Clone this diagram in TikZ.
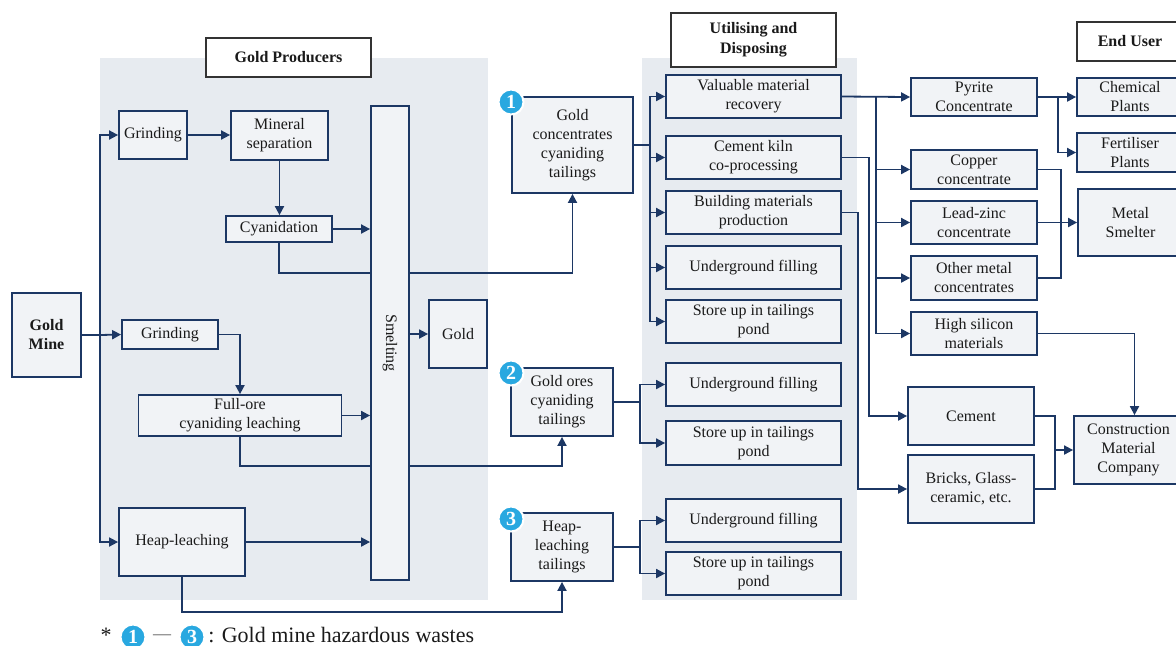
\documentclass[tikz,border=0pt]{standalone}
\usepackage{fontspec}
\setmainfont{Liberation Serif}
\usetikzlibrary{arrows.meta}
\definecolor{navy}{HTML}{1C3764}
\definecolor{boxfill}{HTML}{F1F3F6}
\definecolor{panelc}{HTML}{E7EBF0}
\definecolor{badgec}{HTML}{29A8E0}
\definecolor{txt}{HTML}{1A1A1A}
\pgfdeclarelayer{bg}\pgfdeclarelayer{mid}\pgfsetlayers{bg,mid,main}
\tikzset{
 box/.style={draw=navy, fill=boxfill, line width=0.9pt, inner sep=0pt, align=center, text=txt, font=\fontsize{8}{9.5}\selectfont},
 ttl/.style={draw=black!80, fill=white, line width=0.8pt, inner sep=0pt, align=center, text=txt, font=\fontsize{8}{10}\selectfont\bfseries},
 sz/.style 2 args={minimum width={#1*0.5pt}, minimum height={#2*0.5pt}},
 conn/.style={draw=navy, line width=0.9pt},
 arr/.style={conn, -{Triangle[length=4.5pt,width=4.5pt]}},
 badgestyle/.style={circle, fill=badgec, draw=white, line width=1pt, minimum size=12.5pt, inner sep=0pt, text=white, font=\fontsize{10}{10}\selectfont\bfseries},
}
\begin{document}
\begin{tikzpicture}[x=0.5pt,y=-0.5pt]
\useasboundingbox (0,0) rectangle (1176,645);
\begin{pgfonlayer}{bg}
\fill[panelc] (100,58) rectangle (488,600);
\fill[panelc] (642,58) rectangle (857,600);
\end{pgfonlayer}
% titles
\node[ttl, sz={165}{39}] (gpt) at (288.5,57.5) {Gold Producers};
\node[ttl, sz={165}{54}] (udt) at (753.5,40) {Utilising and\\Disposing};
\node[ttl, sz={106}{39}] (eut) at (1130,41.5) {End User};
% gold producers
\node[box, sz={69}{84}, font=\fontsize{8}{9.5}\selectfont\bfseries] (mine) at (46.5,335) {Gold\\Mine};
\node[box, sz={68}{48}] (grind1) at (153,135) {Grinding};
\node[box, sz={97}{49}] (minsep) at (279.5,135.5) {Mineral\\separation};
\node[box, sz={106}{26}] (cyan) at (279,229) {Cyanidation};
\node[box, sz={38}{474}] (smelt) at (390,343) {};
\node[rotate=-90, text=txt, font=\fontsize{8}{9.5}\selectfont] (smeltlbl) at (smelt.center) {Smelting};
\node[box, sz={58}{68}] (gold) at (458,334) {Gold};
\node[box, sz={96}{29}] (grind2) at (170,334.5) {Grinding};
\node[box, sz={203}{41}] (fullore) at (240,415.5) {Full-ore\\cyaniding leaching};
\node[box, sz={126}{68}] (heap) at (182,542) {Heap-leaching};
% tailings
\node[box, sz={121}{96}] (t1) at (572.5,145) {Gold\\concentrates\\cyaniding\\tailings};
\node[box, sz={102}{68}] (t2) at (562,402) {Gold ores\\cyaniding\\tailings};
\node[box, sz={102}{68}] (t3) at (562,547) {Heap-\\leaching\\tailings};
\node[badgestyle] (b1) at (511,102) {1};
\node[badgestyle] (b2) at (511,373) {2};
\node[badgestyle] (b3) at (511,519) {3};
% utilising
\node[box, sz={175}{43}] (vmr) at (753.5,96.5) {Valuable material\\recovery};
\node[box, sz={175}{43}] (ckc) at (753.5,157.5) {Cement kiln\\co-processing};
\node[box, sz={175}{43}] (bmp) at (753.5,212.5) {Building materials\\production};
\node[box, sz={175}{43}] (uf1) at (753.5,267.5) {Underground filling};
\node[box, sz={175}{43}] (st1) at (753.5,321.5) {Store up in tailings\\pond};
\node[box, sz={175}{43}] (uf2) at (753.5,384.5) {Underground filling};
\node[box, sz={175}{44}] (st2) at (753.5,443) {Store up in tailings\\pond};
\node[box, sz={175}{43}] (uf3) at (753.5,520.5) {Underground filling};
\node[box, sz={175}{43}] (st3) at (753.5,573.5) {Store up in tailings\\pond};
% products
\node[box, sz={126}{38}] (pyr) at (974,97) {Pyrite\\Concentrate};
\node[box, sz={126}{39}] (cop) at (974,169.5) {Copper\\concentrate};
\node[box, sz={126}{43}] (lz) at (974,222.5) {Lead-zinc\\concentrate};
\node[box, sz={126}{44}] (oth) at (974,278) {Other metal\\concentrates};
\node[box, sz={126}{43}] (hsi) at (974,333.5) {High silicon\\materials};
\node[box, sz={126}{58}] (cem) at (971,416) {Cement};
\node[box, sz={126}{68}] (bri) at (971,489) {Bricks, Glass-\\ceramic, etc.};
% end users
\node[box, sz={106}{38}] (chem) at (1130,97) {Chemical\\Plants};
\node[box, sz={106}{39}] (fert) at (1130,152.5) {Fertiliser\\Plants};
\node[box, sz={105}{67}] (msm) at (1130.5,222.5) {Metal\\Smelter};
\node[box, sz={109}{68}] (cmc) at (1128.5,450) {Construction\\Material\\Company};
% footnote
\node[text=txt, font=\fontsize{11}{12}\selectfont, anchor=base, inner sep=0pt] (star) at (106,642) {*};
\node[badgestyle] (f1) at (133,637) {1};
\node[text=txt!70, font=\fontsize{9}{10}\selectfont, inner sep=0pt] (fdash) at (162,637) {—};
\node[badgestyle] (f3) at (192,637) {3};
\node[text=txt, font=\fontsize{11}{12}\selectfont, anchor=base west, inner sep=0pt] (fn) at (208,642) {: Gold mine hazardous wastes};
% connectors
\coordinate (j0) at (100,335);
\coordinate (j1) at (650,145);
\coordinate (j2) at (640,402);
\coordinate (j3) at (640,547);
\coordinate (j4) at (876,96.5);
\coordinate (j5) at (1058,97);
\coordinate (j7) at (1054,450);
\begin{pgfonlayer}{mid}
\draw[conn] (mine.east) -- (j0);
\draw[arr] (j0) |- (grind1.west);
\draw[arr] (j0) -- (grind2.west);
\draw[arr] (j0) |- (heap.west);
\draw[arr] (grind1.east) -- (grind1.east -| minsep.west);
\draw[arr] (minsep.south) -- (minsep.south |- cyan.north);
\draw[arr] (cyan.east) -- (cyan.east -| smelt.west);
\draw[arr] (cyan.south) -- ++(0,30) -| (t1.south);
\draw[arr] (smelt.east |- gold.west) -- (gold.west);
\draw[arr] (grind2.east) -| (fullore.north);
\draw[arr] (fullore.east) -- (fullore.east -| smelt.west);
\draw[arr] (fullore.south) -- ++(0,29) -| (t2.south);
\draw[arr] (heap.east) -- (heap.east -| smelt.west);
\draw[arr] (heap.south) -- ++(0,35) -| (t3.south);
\draw[conn] (t1.east) -- (j1);
\foreach \n in {vmr,ckc,bmp,uf1,st1} \draw[arr] (j1) |- (\n.west);
\draw[conn] (t2.east) -- (j2);
\foreach \n in {uf2,st2} \draw[arr] (j2) |- (\n.west);
\draw[conn] (t3.east) -- (j3);
\foreach \n in {uf3,st3} \draw[arr] (j3) |- (\n.west);
\draw[arr] (vmr.east) -- (pyr.west);
\foreach \n in {cop,lz,oth,hsi} \draw[arr] (j4) |- (\n.west);
\draw[arr] (pyr.east) -- (chem.west);
\draw[arr] (j5) |- (fert.west);
\draw[conn] (cop.east) -- ++(23,0) |- (oth.east);
\draw[arr] (lz.east) -- (msm.west);
\draw[arr] (hsi.east) -| ([xshift=3pt]cmc.north);
\draw[arr] (ckc.east) -- ++(27,0) |- (cem.west);
\draw[arr] (bmp.east) -- ++(16,0) |- (bri.west);
\draw[conn] (cem.east) -- ++(20,0) |- (bri.east);
\draw[arr] (j7) -- (cmc.west);
\end{pgfonlayer}
\end{tikzpicture}
\end{document}
